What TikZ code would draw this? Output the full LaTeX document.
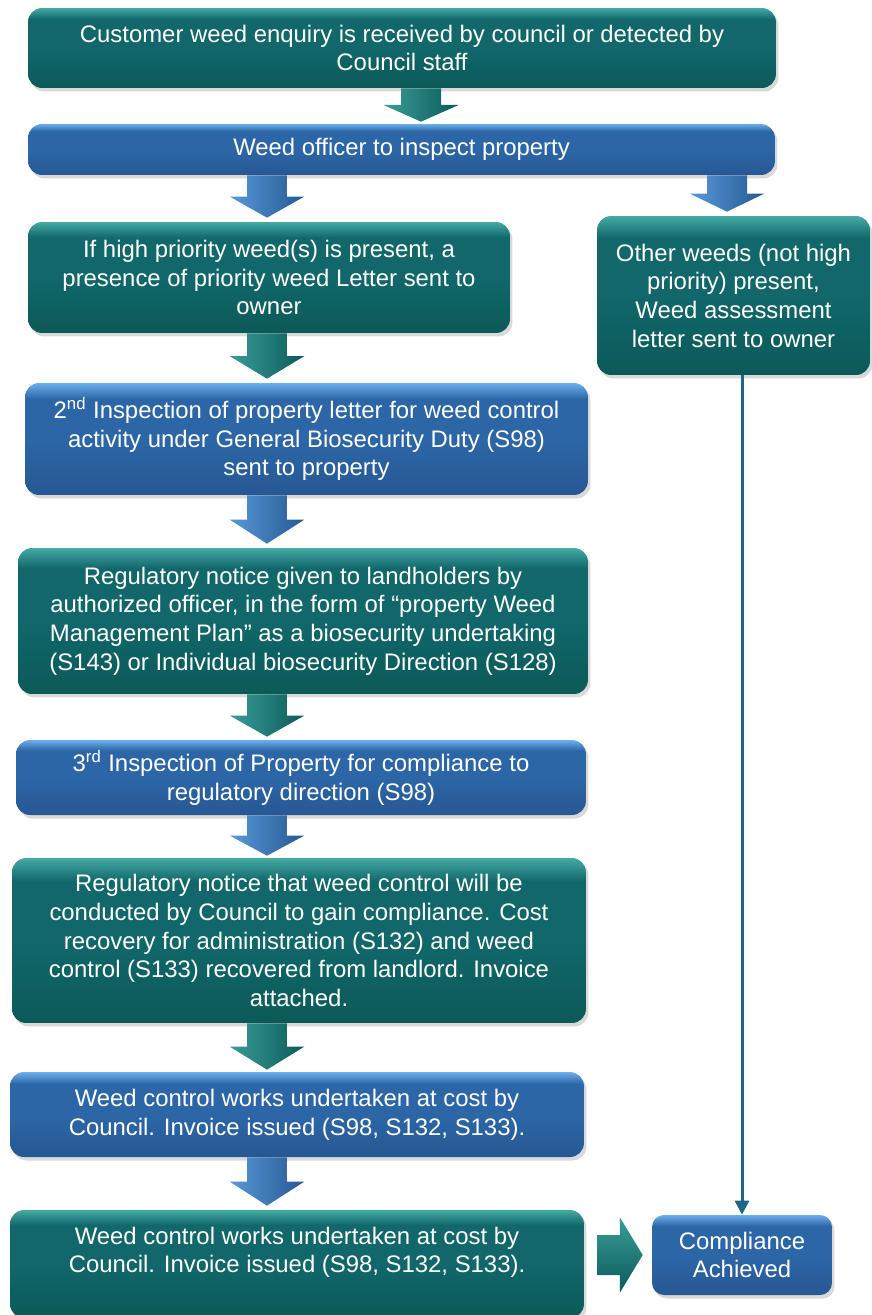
\documentclass[tikz,border=0pt]{standalone}
\usepackage{fontspec}
\setmainfont{Liberation Sans}
\usetikzlibrary{calc,shadows,arrows.meta}
\definecolor{tealtop}{HTML}{45AAA3}
\definecolor{tealmid}{HTML}{11676A}
\definecolor{tealbot}{HTML}{0B5A58}
\definecolor{bluetop}{HTML}{6CAFEB}
\definecolor{bluemid}{HTML}{2D66A6}
\definecolor{bluebot}{HTML}{265893}
\definecolor{flowline}{HTML}{1D6688}
\pgfdeclareverticalshading{tealshade}{100bp}{color(0bp)=(tealbot); color(25bp)=(tealbot);
  color(50bp)=(tealmid); color(68bp)=(tealmid); color(75bp)=(tealtop); color(100bp)=(tealtop)}
\pgfdeclareverticalshading{blueshade}{100bp}{color(0bp)=(bluebot); color(25bp)=(bluebot);
  color(50bp)=(bluemid); color(68bp)=(bluemid); color(75bp)=(bluetop); color(100bp)=(bluetop)}
\tikzset{
  box/.style={rounded corners=0.28cm, align=center, text=white, inner sep=2pt,
    font=\fontsize{13.6}{16.3}\selectfont,
    drop shadow={opacity=0.3, shadow xshift=0.05cm, shadow yshift=-0.07cm}},
  tealbox/.style={box, shading=tealshade},
  bluebox/.style={box, shading=blueshade},
  tealarrow/.style={left color=tealtop!80!tealmid, right color=tealbot},
  bluearrow/.style={left color=bluetop!70!bluemid, right color=bluebot},
  tealarrowh/.style={top color=tealtop!80!tealmid, bottom color=tealbot},
  flowconn/.style={draw=flowline, line width=1.7pt, -{Triangle[length=8pt,width=8pt]}}
}
% block arrow between two points
\newcommand{\blkarrow}[3]{%
  \coordinate (ba s) at #2;
  \coordinate (ba e) at #3;
  \coordinate (ba m) at ($(ba s)!0.5!(ba e)$);
  \path[#1] ($(ba s)!0.4cm!90:(ba e)$) -- ($(ba m)!0.4cm!90:(ba e)$)
    -- ($(ba m)!0.75cm!90:(ba e)$) -- (ba e)
    -- ($(ba m)!0.75cm!-90:(ba e)$) -- ($(ba m)!0.4cm!-90:(ba e)$)
    -- ($(ba s)!0.4cm!-90:(ba e)$) -- cycle;
}
\begin{document}
\begin{tikzpicture}[x=0.02cm,y=-0.02cm]
\useasboundingbox (0,0) rectangle (872,1315);
\coordinate (colT) at (421,0);
\coordinate (colL) at (267,0);
\coordinate (colR) at (727,0);

\node[tealbox, minimum width=14.96cm, minimum height=1.6cm] (enquiry) at (402,48)
  {Customer weed enquiry is received by council or detected by\\Council staff};
\node[bluebox, minimum width=14.94cm, minimum height=1.02cm] (inspect) at (401.5,149.5)
  {Weed officer to inspect property};
\node[tealbox, minimum width=9.64cm, minimum height=2.22cm] (priority) at (269,277.5)
  {If high priority weed(s) is present, a\\presence of priority weed Letter sent to\\owner};
\node[tealbox, minimum width=5.46cm, minimum height=3.18cm] (other) at (733.5,295.5)
  {Other weeds (not high\\priority) present,\\Weed assessment\\letter sent to owner};
\node[bluebox, minimum width=11.26cm, minimum height=2.24cm] (second) at (306.5,439)
  {2\textsuperscript{nd} Inspection of property letter for weed control\\activity under General Biosecurity Duty (S98)\\sent to property};
\node[tealbox, minimum width=11.4cm, minimum height=2.92cm] (notice) at (303,621)
  {Regulatory notice given to landholders by\\authorized officer, in the form of “property Weed\\Management Plan” as a biosecurity undertaking\\(S143) or Individual biosecurity Direction (S128)};
\node[bluebox, minimum width=11.4cm, minimum height=1.5cm] (third) at (301,777.5)
  {3\textsuperscript{rd} Inspection of Property for compliance to\\regulatory direction (S98)};
\node[tealbox, minimum width=11.48cm, minimum height=3.3cm] (costnotice) at (299,940.5)
  {Regulatory notice that weed control will be\\conducted by Council to gain compliance. Cost\\recovery for administration (S132) and weed\\control (S133) recovered from landlord. Invoice\\attached.};
\node[bluebox, minimum width=11.48cm, minimum height=1.7cm] (works) at (297,1114.5)
  {Weed control works undertaken at cost by\\Council. Invoice issued (S98, S132, S133).};
\node[tealbox, minimum width=11.48cm, minimum height=2.16cm] (worksdone) at (297,1264)
  {Weed control works undertaken at cost by\\Council. Invoice issued (S98, S132, S133).\\\mbox{}};
\node[bluebox, minimum width=3.6cm, minimum height=1.6cm, rounded corners=0.24cm] (comply) at (742,1255)
  {Compliance\\Achieved};

% block arrows
\blkarrow{tealarrow}{(enquiry.south -| colT)}{($(inspect.north -| colT)+(0,-2)$)}
\blkarrow{bluearrow}{(inspect.south -| colL)}{($(priority.north -| colL)+(0,-4)$)}
\blkarrow{bluearrow}{(inspect.south -| colR)}{($(other.north -| colR)+(0,-4)$)}
\blkarrow{tealarrow}{(priority.south -| colL)}{($(second.north -| colL)+(0,-4)$)}
\blkarrow{bluearrow}{(second.south -| colL)}{($(notice.north -| colL)+(0,-4)$)}
\blkarrow{tealarrow}{(notice.south -| colL)}{($(third.north -| colL)+(0,-3)$)}
\blkarrow{bluearrow}{(third.south -| colL)}{($(costnotice.north -| colL)+(0,-2)$)}
\blkarrow{tealarrow}{(costnotice.south -| colL)}{($(works.north -| colL)+(0,-2)$)}
\blkarrow{bluearrow}{(works.south -| colL)}{($(worksdone.north -| colL)+(0,-4)$)}
\blkarrow{tealarrowh}{($(comply.west -| worksdone.east)+(13,0)$)}{($(comply.west)+(-9,0)$)}

\draw[flowconn] (other.south -| comply.north) -- (comply.north);
\end{tikzpicture}
\end{document}
